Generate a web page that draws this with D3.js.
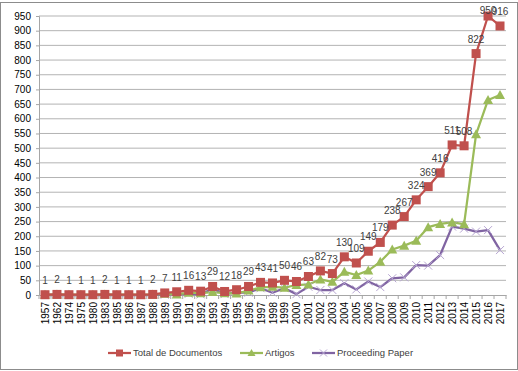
<!DOCTYPE html>
<html>
<head>
<meta charset="utf-8">
<script src="https://cdn.jsdelivr.net/npm/d3@7"></script>
<style>
  body { margin: 0; background: #fff; }
  svg { font-family: "Liberation Sans", Arial, sans-serif; }
</style>
</head>
<body>
<svg id="chart" width="518" height="371"></svg>
<script>
// categories (years on the x axis)
var years = ["1957", "1962", "1974", "1975", "1980", "1983", "1985", "1986", "1987", "1988",
  "1989", "1990", "1991", "1992", "1993", "1994", "1995", "1996", "1997", "1998", "1999",
  "2000", "2001", "2002", "2003", "2004", "2005", "2006", "2007", "2008", "2009", "2010",
  "2011", "2012", "2013", "2014", "2015", "2016", "2017"];

var total = [1, 2, 1, 1, 1, 2, 1, 1, 1, 2,
  7, 11, 16, 13, 29, 12, 18, 29, 43, 41, 50,
  46, 63, 82, 73, 130, 109, 149, 179, 238, 267, 324,
  369, 416, 511, 508, 822, 950, 916];

// (estimates)
var artigos = [1, 2, 1, 1, 1, 2, 1, 1, 1, 2,
  4, 2, 8, 6, 10, 6, 5, 15, 26, 28, 25,
  34, 36, 53, 45, 79, 68, 83, 113, 155, 168, 185,
  231, 242, 247, 241, 547, 664, 681];

var proceeding = [0, 0, 0, 0, 0, 0, 0, 0, 0, 0,
  1, 3, 4, 2, 22, 3, 9, 8, 23, 8, 23,
  3, 28, 17, 17, 40, 19, 46, 27, 57, 60, 102,
  100, 136, 233, 226, 216, 221, 153];

var yTicks = d3.range(0, 951, 50);

var seriesNames = ["Total de Documentos", "Artigos", "Proceeding Paper"];
var colors = ["#C0504D", "#9BBB59", "#8064A2"];

var svg = d3.select("#chart");

// outer chart border
svg.append("rect")
  .attr("x", 0.5).attr("y", 2.5)
  .attr("width", 517).attr("height", 367)
  .attr("fill", "none")
  .attr("stroke", "#8c8c8c");

var plotLeft = 39, plotRight = 506, plotTop = 16, plotBottom = 295;

var x = d3.scalePoint()
  .domain(years)
  .range([plotLeft, plotRight])
  .padding(0.5);

var y = d3.scaleLinear()
  .domain([0, 950])
  .range([plotBottom, plotTop]);

// gridlines
svg.append("g")
  .selectAll("line")
  .data(yTicks.filter(function(d) { return d > 0; }))
  .enter().append("line")
    .attr("x1", plotLeft).attr("x2", plotRight)
    .attr("y1", function(d) { return y(d); })
    .attr("y2", function(d) { return y(d); })
    .attr("stroke", "#b3b3b3")
    .attr("stroke-width", 1);

// y axis
var yAxis = svg.append("g")
  .attr("transform", "translate(" + plotLeft + ",0)")
  .call(d3.axisLeft(y).tickValues(yTicks).tickSize(3).tickPadding(5));
yAxis.select(".domain").attr("stroke", "#a6a6a6");
yAxis.selectAll(".tick line").attr("stroke", "#a6a6a6");
yAxis.selectAll("text")
  .attr("font-size", "10px")
  .attr("font-family", "Liberation Sans, Arial, sans-serif")
  .attr("fill", "#000");

// x axis
var step = x.step();
var xAxis = svg.append("g")
  .attr("transform", "translate(0," + plotBottom + ")")
  .call(d3.axisBottom(x).tickSize(0).tickPadding(4));
xAxis.select(".domain").attr("stroke", "#a6a6a6");
xAxis.selectAll("text")
  .attr("font-size", "10px")
  .attr("font-family", "Liberation Sans, Arial, sans-serif")
  .attr("fill", "#000")
  .attr("transform", "rotate(-90)")
  .attr("text-anchor", "end")
  .attr("x", -7)
  .attr("y", 0)
  .attr("dy", "0.35em");

// tick marks between categories
svg.append("g")
  .selectAll("line")
  .data(d3.range(years.length + 1))
  .enter().append("line")
    .attr("x1", function(i) { return plotLeft + i * step; })
    .attr("x2", function(i) { return plotLeft + i * step; })
    .attr("y1", plotBottom)
    .attr("y2", plotBottom + 4)
    .attr("stroke", "#a6a6a6");

var line = d3.line()
  .x(function(d, i) { return x(years[i]); })
  .y(function(d) { return y(d); });

var allSeries = [total, artigos, proceeding];

// draw lines, back to front
[2, 1, 0].forEach(function(k) {
  svg.append("path")
    .datum(allSeries[k])
    .attr("fill", "none")
    .attr("stroke", colors[k])
    .attr("stroke-width", 2.25)
    .attr("stroke-linejoin", "round")
    .attr("d", line);
});

// proceeding markers: x
svg.append("g")
  .selectAll("path")
  .data(proceeding)
  .enter().append("path")
    .attr("transform", function(d, i) { return "translate(" + x(years[i]) + "," + y(d) + ")"; })
    .attr("d", "M-4,-4L4,4M-4,4L4,-4")
    .attr("stroke", "#b7a6d2")
    .attr("stroke-width", 1);

// artigos markers: triangles
svg.append("g")
  .selectAll("path")
  .data(artigos)
  .enter().append("path")
    .attr("transform", function(d, i) { return "translate(" + x(years[i]) + "," + y(d) + ")"; })
    .attr("d", "M0,-5L5,4L-5,4Z")
    .attr("fill", "#9BBB59");

// total markers: squares
svg.append("g")
  .selectAll("rect")
  .data(total)
  .enter().append("rect")
    .attr("x", function(d, i) { return x(years[i]) - 4.5; })
    .attr("y", function(d) { return y(d) - 4.5; })
    .attr("width", 9)
    .attr("height", 9)
    .attr("fill", "#C0504D");

// data labels for total
svg.append("g")
  .selectAll("text")
  .data(total)
  .enter().append("text")
    .attr("x", function(d, i) { return x(years[i]); })
    .attr("y", function(d) { return Math.max(14, y(d) - 11); })
    .attr("text-anchor", "middle")
    .attr("font-size", "10px")
    .attr("fill", "#404040")
    .text(function(d) { return d; });

// legend
var legendX = [108, 240, 312];
var legend = svg.append("g")
  .selectAll("g")
  .data(seriesNames)
  .enter().append("g")
    .attr("transform", function(d, i) { return "translate(" + legendX[i] + ",353)"; });

legend.append("line")
  .attr("x1", 0).attr("x2", 23)
  .attr("stroke", function(d, i) { return colors[i]; })
  .attr("stroke-width", 2.25);

legend.append("path")
  .attr("transform", "translate(11.5,0)")
  .attr("d", function(d, i) {
    if (i === 0) return "M-3.5,-3.5H3.5V3.5H-3.5Z";
    if (i === 1) return "M0,-4L4,3L-4,3Z";
    return "M-3.5,-3.5L3.5,3.5M-3.5,3.5L3.5,-3.5";
  })
  .attr("fill", function(d, i) { return i === 2 ? "none" : colors[i]; })
  .attr("stroke", function(d, i) { return i === 2 ? "#b7a6d2" : "none"; });

legend.append("text")
  .attr("x", 25)
  .attr("dy", "0.35em")
  .attr("font-size", "9.5px")
  .attr("fill", "#404040")
  .text(function(d) { return d; });
</script>
</body>
</html>
